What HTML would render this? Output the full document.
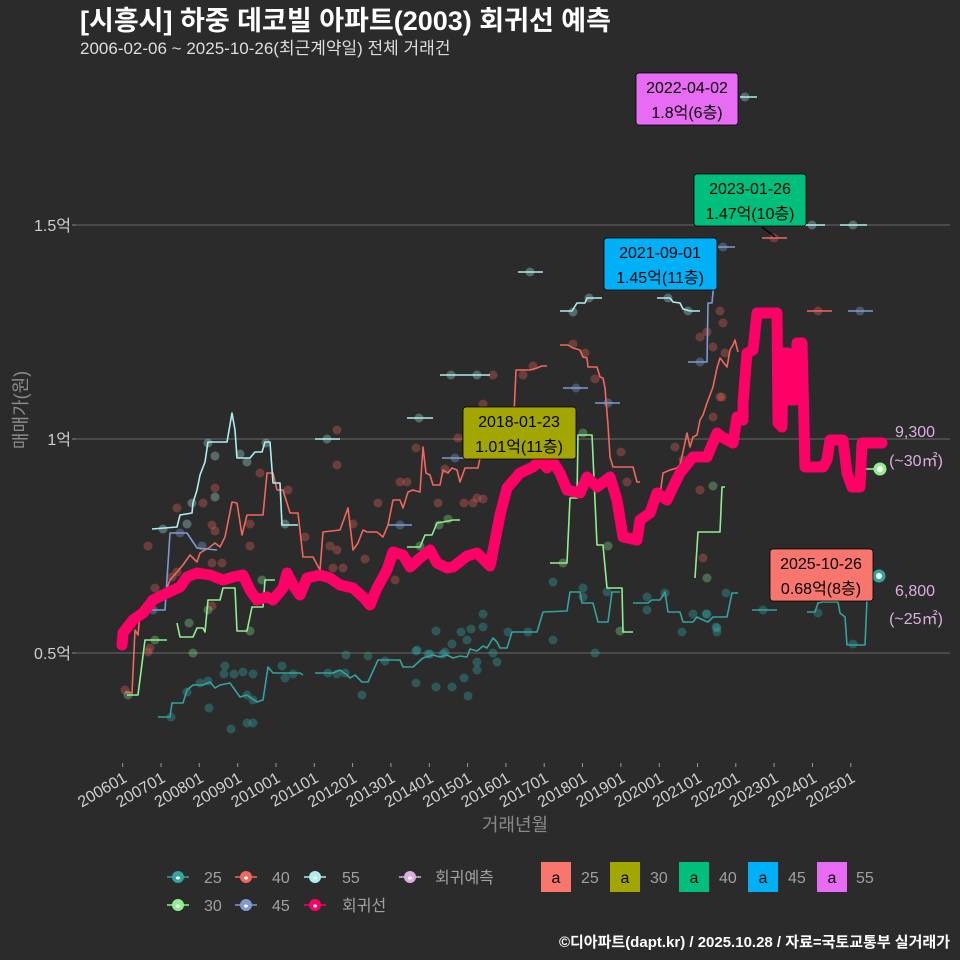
<!DOCTYPE html>
<html><head><meta charset="utf-8">
<style>
html,body{margin:0;padding:0;background:#2b2b2b;}
svg{display:block;}
text{font-family:"Liberation Sans","Noto Sans CJK KR",sans-serif;}
</style></head>
<body>
<svg width="960" height="960" viewBox="0 0 960 960" xmlns="http://www.w3.org/2000/svg">
<rect width="960" height="960" fill="#2b2b2b"/>
<!-- title -->
<text x="80" y="30" font-size="27" font-weight="bold" fill="#ffffff">[시흥시] 하중 데코빌 아파트(2003) 회귀선 예측</text>
<text x="80" y="54" font-size="17" fill="#dddddd">2006-02-06 ~ 2025-10-26(최근계약일) 전체 거래건</text>

<!-- grid -->
<g stroke="#5e5e5e" stroke-width="1.2">
<line x1="76" y1="225" x2="950" y2="225"/>
<line x1="76" y1="439" x2="950" y2="439"/>
<line x1="76" y1="653" x2="950" y2="653"/>
</g>
<g stroke="#888" stroke-width="1">
<line x1="72" y1="225" x2="76" y2="225"/><line x1="72" y1="439" x2="76" y2="439"/><line x1="72" y1="653" x2="76" y2="653"/>
</g>
<g font-size="16" fill="#cfcfcf" text-anchor="end">
<text x="71" y="231">1.5억</text>
<text x="71" y="445">1억</text>
<text x="71" y="659">0.5억</text>
</g>
<text transform="translate(27,410) rotate(-90)" font-size="18" fill="#8a8a8a" text-anchor="middle">매매가(원)</text>

<!-- x ticks -->
<g stroke="#999" stroke-width="1">
<line x1="122.7" y1="763" x2="122.7" y2="767"/><line x1="161.0" y1="763" x2="161.0" y2="767"/><line x1="199.3" y1="763" x2="199.3" y2="767"/><line x1="237.7" y1="763" x2="237.7" y2="767"/><line x1="276.0" y1="763" x2="276.0" y2="767"/><line x1="314.3" y1="763" x2="314.3" y2="767"/><line x1="352.6" y1="763" x2="352.6" y2="767"/><line x1="390.9" y1="763" x2="390.9" y2="767"/><line x1="429.3" y1="763" x2="429.3" y2="767"/><line x1="467.6" y1="763" x2="467.6" y2="767"/><line x1="505.9" y1="763" x2="505.9" y2="767"/><line x1="544.2" y1="763" x2="544.2" y2="767"/><line x1="582.5" y1="763" x2="582.5" y2="767"/><line x1="620.9" y1="763" x2="620.9" y2="767"/><line x1="659.2" y1="763" x2="659.2" y2="767"/><line x1="697.5" y1="763" x2="697.5" y2="767"/><line x1="735.8" y1="763" x2="735.8" y2="767"/><line x1="774.1" y1="763" x2="774.1" y2="767"/><line x1="812.5" y1="763" x2="812.5" y2="767"/><line x1="850.8" y1="763" x2="850.8" y2="767"/>
</g>
<g font-size="16" fill="#cfcfcf" text-anchor="end">
<text transform="translate(128,781) rotate(-30)">200601</text>
<text transform="translate(166.3,781) rotate(-30)">200701</text>
<text transform="translate(204.6,781) rotate(-30)">200801</text>
<text transform="translate(243,781) rotate(-30)">200901</text>
<text transform="translate(281.3,781) rotate(-30)">201001</text>
<text transform="translate(319.6,781) rotate(-30)">201101</text>
<text transform="translate(357.9,781) rotate(-30)">201201</text>
<text transform="translate(396.2,781) rotate(-30)">201301</text>
<text transform="translate(434.6,781) rotate(-30)">201401</text>
<text transform="translate(472.9,781) rotate(-30)">201501</text>
<text transform="translate(511.2,781) rotate(-30)">201601</text>
<text transform="translate(549.5,781) rotate(-30)">201701</text>
<text transform="translate(587.8,781) rotate(-30)">201801</text>
<text transform="translate(626.2,781) rotate(-30)">201901</text>
<text transform="translate(664.5,781) rotate(-30)">202001</text>
<text transform="translate(702.8,781) rotate(-30)">202101</text>
<text transform="translate(741.1,781) rotate(-30)">202201</text>
<text transform="translate(779.4,781) rotate(-30)">202301</text>
<text transform="translate(817.8,781) rotate(-30)">202401</text>
<text transform="translate(856.1,781) rotate(-30)">202501</text>
</g>
<text x="515" y="831" font-size="18" fill="#8a8a8a" text-anchor="middle">거래년월</text>

<!-- scatter points -->
<g fill="#f0675e" fill-opacity="0.33">
<circle cx="148" cy="546" r="4.5"/><circle cx="177" cy="508" r="4.5"/><circle cx="203" cy="503" r="4.5"/><circle cx="215" cy="488" r="4.5"/><circle cx="212" cy="525" r="4.5"/><circle cx="215" cy="531" r="4.5"/><circle cx="250" cy="524" r="4.5"/><circle cx="260" cy="473" r="4.5"/><circle cx="250" cy="546" r="4.5"/><circle cx="288" cy="490" r="4.5"/><circle cx="337" cy="430" r="4.5"/><circle cx="337" cy="465" r="4.5"/><circle cx="330" cy="546" r="4.5"/><circle cx="337" cy="550" r="4.5"/><circle cx="333" cy="568" r="4.5"/><circle cx="343" cy="568" r="4.5"/><circle cx="365" cy="559" r="4.5"/><circle cx="378" cy="503" r="4.5"/><circle cx="353" cy="524" r="4.5"/><circle cx="416" cy="448" r="4.5"/><circle cx="400" cy="482" r="4.5"/><circle cx="407" cy="482" r="4.5"/><circle cx="438" cy="503" r="4.5"/><circle cx="445" cy="469" r="4.5"/><circle cx="155" cy="588" r="4.5"/><circle cx="172" cy="577" r="4.5"/><circle cx="177" cy="572" r="4.5"/><circle cx="212" cy="563" r="4.5"/><circle cx="222" cy="563" r="4.5"/><circle cx="212" cy="606" r="4.5"/><circle cx="148" cy="652" r="4.5"/><circle cx="150" cy="648" r="4.5"/><circle cx="125" cy="690" r="4.5"/><circle cx="305" cy="537" r="4.5"/><circle cx="395" cy="580" r="4.5"/><circle cx="458" cy="438" r="4.5"/><circle cx="483" cy="404" r="4.5"/><circle cx="493" cy="375" r="4.5"/><circle cx="464" cy="503" r="4.5"/><circle cx="473" cy="503" r="4.5"/><circle cx="477" cy="498" r="4.5"/><circle cx="483" cy="499" r="4.5"/><circle cx="523" cy="375" r="4.5"/><circle cx="533" cy="366" r="4.5"/><circle cx="573" cy="344" r="4.5"/><circle cx="585" cy="353" r="4.5"/><circle cx="595" cy="379" r="4.5"/><circle cx="621" cy="452" r="4.5"/><circle cx="627" cy="482" r="4.5"/><circle cx="675" cy="447" r="4.5"/><circle cx="683" cy="460" r="4.5"/><circle cx="700" cy="490" r="4.5"/><circle cx="703" cy="558" r="4.5"/><circle cx="713" cy="442" r="4.5"/><circle cx="713" cy="417" r="4.5"/><circle cx="720" cy="397" r="4.5"/><circle cx="707" cy="332" r="4.5"/><circle cx="700" cy="337" r="4.5"/><circle cx="713" cy="347" r="4.5"/><circle cx="723" cy="323" r="4.5"/><circle cx="720" cy="311" r="4.5"/><circle cx="725" cy="353" r="4.5"/><circle cx="722" cy="397" r="4.5"/><circle cx="818" cy="311" r="4.5"/><circle cx="774" cy="238" r="4.5"/>
</g>
<g fill="#90ee90" fill-opacity="0.33">
<circle cx="189" cy="623" r="4.5"/><circle cx="193" cy="653" r="4.5"/><circle cx="208" cy="610" r="4.5"/><circle cx="250" cy="631" r="4.5"/><circle cx="262" cy="580" r="4.5"/><circle cx="155" cy="640" r="4.5"/><circle cx="128" cy="695" r="4.5"/><circle cx="448" cy="519" r="4.5"/><circle cx="420" cy="546" r="4.5"/><circle cx="563" cy="563" r="4.5"/><circle cx="583" cy="433" r="4.5"/><circle cx="608" cy="546" r="4.5"/><circle cx="620" cy="631" r="4.5"/><circle cx="713" cy="486" r="4.5"/><circle cx="707" cy="578" r="4.5"/><circle cx="439" cy="525" r="4.5"/>
</g>
<g fill="#33a3a0" fill-opacity="0.38">
<circle cx="171" cy="717" r="4.5"/><circle cx="187" cy="692" r="4.5"/><circle cx="200" cy="683" r="4.5"/><circle cx="208" cy="681" r="4.5"/><circle cx="225" cy="666" r="4.5"/><circle cx="224" cy="674" r="4.5"/><circle cx="234" cy="674" r="4.5"/><circle cx="243" cy="672" r="4.5"/><circle cx="253" cy="674" r="4.5"/><circle cx="282" cy="666" r="4.5"/><circle cx="285" cy="678" r="4.5"/><circle cx="247" cy="695" r="4.5"/><circle cx="253" cy="700" r="4.5"/><circle cx="209" cy="708" r="4.5"/><circle cx="247" cy="723" r="4.5"/><circle cx="253" cy="723" r="4.5"/><circle cx="231" cy="729" r="4.5"/><circle cx="293" cy="674" r="4.5"/><circle cx="328" cy="673" r="4.5"/><circle cx="337" cy="674" r="4.5"/><circle cx="345" cy="673" r="4.5"/><circle cx="346" cy="655" r="4.5"/><circle cx="368" cy="656" r="4.5"/><circle cx="362" cy="695" r="4.5"/><circle cx="416" cy="651" r="4.5"/><circle cx="416" cy="683" r="4.5"/><circle cx="436" cy="687" r="4.5"/><circle cx="436" cy="631" r="4.5"/><circle cx="430" cy="654" r="4.5"/><circle cx="443" cy="654" r="4.5"/><circle cx="385" cy="661" r="4.5"/><circle cx="417" cy="650" r="4.5"/><circle cx="428" cy="654" r="4.5"/><circle cx="445" cy="652" r="4.5"/><circle cx="452" cy="687" r="4.5"/><circle cx="452" cy="644" r="4.5"/><circle cx="461" cy="632" r="4.5"/><circle cx="467" cy="640" r="4.5"/><circle cx="471" cy="629" r="4.5"/><circle cx="483" cy="614" r="4.5"/><circle cx="483" cy="627" r="4.5"/><circle cx="477" cy="662" r="4.5"/><circle cx="477" cy="670" r="4.5"/><circle cx="464" cy="678" r="4.5"/><circle cx="468" cy="696" r="4.5"/><circle cx="493" cy="653" r="4.5"/><circle cx="497" cy="662" r="4.5"/><circle cx="508" cy="632" r="4.5"/><circle cx="528" cy="632" r="4.5"/><circle cx="553" cy="582" r="4.5"/><circle cx="553" cy="640" r="4.5"/><circle cx="583" cy="588" r="4.5"/><circle cx="583" cy="597" r="4.5"/><circle cx="595" cy="653" r="4.5"/><circle cx="607" cy="592" r="4.5"/><circle cx="647" cy="597" r="4.5"/><circle cx="647" cy="610" r="4.5"/><circle cx="665" cy="593" r="4.5"/><circle cx="682" cy="632" r="4.5"/><circle cx="693" cy="614" r="4.5"/><circle cx="706" cy="614" r="4.5"/><circle cx="717" cy="628" r="4.5"/><circle cx="717" cy="632" r="4.5"/><circle cx="726" cy="593" r="4.5"/><circle cx="707" cy="614" r="4.5"/><circle cx="716" cy="627" r="4.5"/><circle cx="763" cy="610" r="4.5"/><circle cx="818" cy="613" r="4.5"/><circle cx="853" cy="644" r="4.5"/>
</g>
<g fill="#afeeee" fill-opacity="0.33">
<circle cx="163" cy="529" r="4.5"/><circle cx="187" cy="524" r="4.5"/><circle cx="192" cy="503" r="4.5"/><circle cx="215" cy="456" r="4.5"/><circle cx="215" cy="497" r="4.5"/><circle cx="208" cy="443" r="4.5"/><circle cx="240" cy="454" r="4.5"/><circle cx="247" cy="462" r="4.5"/><circle cx="266" cy="443" r="4.5"/><circle cx="285" cy="524" r="4.5"/><circle cx="327" cy="439" r="4.5"/><circle cx="419" cy="418" r="4.5"/><circle cx="451" cy="375" r="4.5"/><circle cx="477" cy="375" r="4.5"/><circle cx="530" cy="272" r="4.5"/><circle cx="573" cy="312" r="4.5"/><circle cx="589" cy="298" r="4.5"/><circle cx="668" cy="298" r="4.5"/><circle cx="688" cy="311" r="4.5"/><circle cx="745" cy="97" r="4.5"/><circle cx="812" cy="225" r="4.5"/><circle cx="853" cy="225" r="4.5"/>
</g>
<g fill="#7e9bcf" fill-opacity="0.38">
<circle cx="180" cy="533" r="4.5"/><circle cx="202" cy="546" r="4.5"/><circle cx="153" cy="610" r="4.5"/><circle cx="400" cy="525" r="4.5"/><circle cx="455" cy="458" r="4.5"/><circle cx="576" cy="388" r="4.5"/><circle cx="608" cy="403" r="4.5"/><circle cx="700" cy="362" r="4.5"/><circle cx="723" cy="247" r="4.5"/><circle cx="860" cy="311" r="4.5"/>
</g>

<!-- series lines -->
<g fill="none" stroke-width="1.6" stroke-linejoin="round">
<g stroke="#33a3a0">
<polyline points="158,717 170,717 172,703 183,703 187,690 193,685 203,685 210,682 215,688 220,685 230,683 240,697 247,695 257,702 263,700 268,667 273,673 300,673 303,675"/>
<polyline points="315,673 333,673 340,670 347,675 350,678 355,675 362,682 368,682 378,660 390,660 400,660 403,667 413,667 423,658 433,655 440,657 447,655 453,658 460,656 467,657 470,649 477,651 483,646 487,648 493,638 497,642 500,648 507,648 512,632 537,632 543,612 567,611 570,592 580,592 582,603 593,603 598,622 608,622 612,592 620,592"/>
<polyline points="633,603 648,603 652,600 660,600 665,592 668,612 680,612 683,622 693,622 697,617 703,620 708,622 713,617 727,617 732,593 738,593"/>
<polyline points="752,610 777,610"/>
<polyline points="807,612 815,612 818,603 823,602 838,602 840,613 845,617 847,645 865,645 867,600 870,600"/>
</g>
<g stroke="#90ee90">
<polyline points="127,695 138,695 145,640 167,640"/>
<polyline points="177,623 180,637 193,637 197,628 203,628 205,632 208,600 220,600 223,588 235,588 237,631 247,631 252,607 263,607 265,580 275,580"/>
<polyline points="407,547 420,547 425,535 432,535 437,523 443,522 453,520 460,520"/>
<polyline points="550,563 567,563 570,498 577,498 578,435 592,435 597,545 603,545 607,588 622,588 623,632 633,632"/>
<polyline points="695,578 698,532 720,532 722,487 725,487"/>
<polyline points="866,469 880,469"/>
</g>
<g stroke="#f0675e">
<polyline points="125,692 132,693 135,630 138,635 140,613 145,610 153,605 162,598 165,593 170,580 177,572 183,565 190,555 197,562 200,553 210,547 215,543 220,547 225,537 232,502 237,503 242,535 247,515 263,515 267,473 273,473 277,490 283,490 290,513 298,513 303,557 313,557 320,570 323,532 340,530 348,508 353,550 358,543 363,530 367,532 377,532 383,537 388,525 393,500 400,500 403,508 408,492 413,490 420,492 423,447 426,473 430,475 433,485 440,485 443,470 448,473 452,468 457,470 460,482 465,468 478,468 480,458 512,458 516,370 530,370 537,368 542,366 547,366"/>
<polyline points="560,345 568,345 573,348 580,350 583,357 587,358 588,367 597,367 600,377 603,378 605,388 608,425 610,457 613,467 633,467 637,482 640,482"/>
<polyline points="653,495 660,495 663,473 670,470 677,468 680,465 683,452 687,433 690,447 693,437 697,435 700,420 703,415 707,403 713,387 717,368 720,358 727,367 730,350 733,345 735,340 738,352"/>
<polyline points="762,238 787,238"/>
<polyline points="807,311 832,311"/>
</g>
<g stroke="#7e9bcf">
<polyline points="142,610 165,610 170,533 187,533 197,548 217,550"/>
<polyline points="388,525 412,525"/>
<polyline points="442,458 465,458"/>
<polyline points="563,388 588,388"/>
<polyline points="595,403 620,403"/>
<polyline points="688,362 707,362 708,303 712,303 713,292 715,285"/>
<polyline points="718,247 735,247"/>
<polyline points="848,311 873,311"/>
</g>
<g stroke="#afeeee">
<polyline points="152,529 177,527 180,515 192,513 193,503 197,490 200,475 205,462 208,442 227,442 232,413 235,430 237,458 250,458 255,452 262,452 265,442 270,442 273,483 280,483 282,525 298,525"/>
<polyline points="315,439 340,439"/>
<polyline points="407,418 433,418"/>
<polyline points="440,375 490,375"/>
<polyline points="518,272 543,272"/>
<polyline points="560,311 572,311 577,303 585,303 587,298 602,298"/>
<polyline points="657,298 670,298 673,302 680,303 683,309 690,311 700,311"/>
<polyline points="740,97 757,97"/>
<polyline points="805,225 825,225"/>
<polyline points="840,225 867,225"/>
</g>
</g>

<!-- regression line -->
<polyline fill="none" stroke="#ff0066" stroke-width="11" stroke-linejoin="round" stroke-linecap="round" points="122,645 123,633 133,620 143,613 153,600 167,593 180,587 187,577 197,573 210,575 223,580 233,577 243,575 250,590 257,600 267,597 273,600 283,588 287,573 293,585 300,595 307,578 320,575 330,578 340,585 353,588 363,597 370,605 377,588 387,570 393,552 403,555 410,567 420,558 430,550 437,563 447,568 453,567 467,556 477,553 490,566 500,515 507,488 520,473 533,467 540,460 547,468 550,457 560,473 567,490 580,493 587,477 597,487 610,477 617,500 623,537 637,540 640,520 650,513 657,493 667,500 673,487 680,473 693,457 707,457 717,433 722,437 733,443 737,417 743,420 743,403 747,353 753,350 757,313 777,313 778,423 782,427 783,353 788,353 790,400 795,400 797,343 802,343 805,467 823,467 827,460 830,440 843,440 847,473 852,487 860,487 862,443 882,443"/>

<!-- prediction points -->
<circle cx="880" cy="469" r="6.5" fill="#90ee90"/><circle cx="880" cy="469" r="3" fill="#ffffff"/>
<circle cx="879" cy="576" r="6.5" fill="#33a3a0"/><circle cx="879" cy="576" r="3" fill="#ffffff"/>
<g font-size="16" fill="#dcaee0" text-anchor="middle">
<text x="915" y="437">9,300</text>
<text x="916" y="466">(~30㎡)</text>
<text x="915" y="596">6,800</text>
<text x="916" y="624">(~25㎡)</text>
</g>

<!-- annotation boxes -->
<line x1="762" y1="227" x2="775" y2="237" stroke="#000" stroke-width="1.2"/>
<g stroke-width="0.8" stroke="#000">
<rect x="636" y="73" width="102" height="52" rx="3" fill="#e76bf3"/>
<rect x="694" y="174" width="112" height="52" rx="3" fill="#00bf7d"/>
<rect x="604" y="238" width="113" height="52" rx="3" fill="#00b0f6"/>
<rect x="463" y="407" width="113" height="52" rx="3" fill="#a3a500"/>
<rect x="770" y="549" width="103" height="52" rx="3" fill="#f8766d"/>
</g>
<g font-size="16" fill="#000" text-anchor="middle">
<text x="687" y="93">2022-04-02</text><text x="687" y="118">1.8억(6층)</text>
<text x="750" y="194">2023-01-26</text><text x="750" y="219">1.47억(10층)</text>
<text x="660" y="258">2021-09-01</text><text x="660" y="283">1.45억(11층)</text>
<text x="519" y="427">2018-01-23</text><text x="519" y="452">1.01억(11층)</text>
<text x="821" y="569">2025-10-26</text><text x="821" y="594">0.68억(8층)</text>
</g>

<!-- legend -->
<g stroke-width="1.6">
<line x1="167" y1="877" x2="189" y2="877" stroke="#33a3a0"/><circle cx="178" cy="877" r="6" fill="#33a3a0"/>
<line x1="235" y1="877" x2="257" y2="877" stroke="#f0675e"/><circle cx="246" cy="877" r="6" fill="#f0675e"/>
<line x1="304" y1="877" x2="326" y2="877" stroke="#afeeee"/><circle cx="315" cy="877" r="6" fill="#afeeee"/>
<line x1="399" y1="877" x2="421" y2="877" stroke="#dcaee0"/><circle cx="410" cy="877" r="6" fill="#dcaee0"/>
<line x1="167" y1="905" x2="189" y2="905" stroke="#90ee90"/><circle cx="178" cy="905" r="6" fill="#90ee90"/>
<line x1="235" y1="905" x2="257" y2="905" stroke="#7e9bcf"/><circle cx="246" cy="905" r="6" fill="#7e9bcf"/>
<line x1="304" y1="905" x2="326" y2="905" stroke="#ff0066"/><circle cx="315" cy="905" r="6" fill="#ff0066"/>
</g>
<g fill="#ffffff">
<ellipse cx="178" cy="878" rx="2" ry="1.5"/><ellipse cx="246" cy="878" rx="2" ry="1.5"/><ellipse cx="315" cy="878" rx="2" ry="1.5"/><ellipse cx="410" cy="878" rx="2" ry="1.5"/>
<ellipse cx="178" cy="906" rx="2" ry="1.5"/><ellipse cx="246" cy="906" rx="2" ry="1.5"/><ellipse cx="315" cy="906" rx="2" ry="1.5"/>
</g>
<g font-size="16" fill="#a0a0a0">
<text x="204" y="883">25</text><text x="272" y="883">40</text><text x="342" y="883">55</text><text x="435" y="883">회귀예측</text>
<text x="204" y="911">30</text><text x="272" y="911">45</text><text x="342" y="911">회귀선</text>
</g>
<rect x="541" y="862" width="30" height="30" fill="#f8766d"/>
<rect x="610" y="862" width="30" height="30" fill="#a3a500"/>
<rect x="679" y="862" width="30" height="30" fill="#00bf7d"/>
<rect x="748" y="862" width="30" height="30" fill="#00b0f6"/>
<rect x="817" y="862" width="30" height="30" fill="#e76bf3"/>
<g font-size="16" fill="#000" text-anchor="middle">
<text x="556" y="883">a</text><text x="625" y="883">a</text><text x="694" y="883">a</text><text x="763" y="883">a</text><text x="832" y="883">a</text>
</g>
<g font-size="16" fill="#a0a0a0">
<text x="581" y="883">25</text><text x="650" y="883">30</text><text x="719" y="883">40</text><text x="788" y="883">45</text><text x="856" y="883">55</text>
</g>

<text x="950" y="947" font-size="15" font-weight="bold" fill="#ffffff" text-anchor="end">©디아파트(dapt.kr) / 2025.10.28 / 자료=국토교통부 실거래가</text>
</svg>
</body></html>
